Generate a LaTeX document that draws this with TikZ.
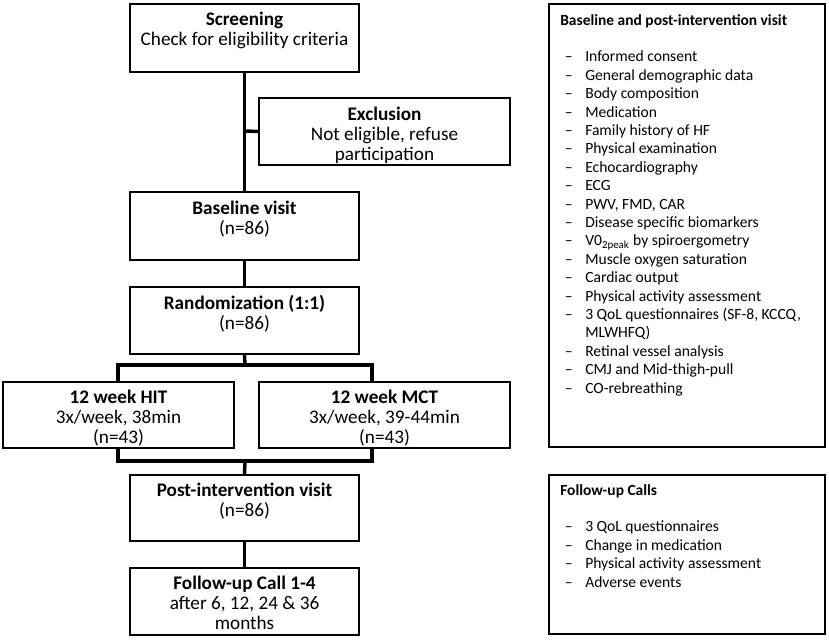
\documentclass[tikz,border=0pt]{standalone}
\usepackage{fontspec}
\setmainfont{Carlito}
\newcommand{\dsh}{\makebox[18.75pt][l]{\hspace{3.5pt}–}}
\begin{document}
\begin{tikzpicture}[x=0.75pt,y=-0.75pt,
  box/.style={draw, line width=1.6pt, inner sep=0pt},
  txt/.style={anchor=north, align=center, inner sep=0pt, font=\fontsize{14.4}{15}\selectfont},
  conn/.style={line width=2.6pt},
  lst/.style={anchor=north west, align=left, inner sep=0pt, font=\fontsize{11.7}{13.8}\selectfont}]
\useasboundingbox (0,0) rectangle (829,641);
% boxes
\node[box, minimum width=171.75pt, minimum height=51pt] (scr) at (244.5,38) {};
\node[box, minimum width=188.25pt, minimum height=50.25pt] (exc) at (384.5,131.5) {};
\node[box, minimum width=171.75pt, minimum height=51pt] (base) at (244.5,226) {};
\node[box, minimum width=171.75pt, minimum height=50.25pt] (rand) at (244.5,320.5) {};
\node[box, minimum width=173.25pt, minimum height=49.5pt] (hit) at (118.5,415) {};
\node[box, minimum width=188.25pt, minimum height=49.5pt] (mct) at (384.5,415) {};
\node[box, minimum width=171.75pt, minimum height=49.5pt] (post) at (244.5,508) {};
\node[box, minimum width=171.75pt, minimum height=50.25pt] (fol) at (244.5,601.5) {};
\node[box, minimum width=207pt, minimum height=332.25pt] (r1) at (687,225.5) {};
\node[box, minimum width=207pt, minimum height=119.25pt] (r2) at (687,554.5) {};
% texts
\node[txt] (tscr) at ([yshift=-7pt]scr.north) {\textbf{Screening}\\Check for eligibility criteria};
\node[txt] (texc) at ([yshift=-7pt]exc.north) {\textbf{Exclusion}\\Not eligible, refuse\\participation};
\node[txt] (tbase) at ([yshift=-7pt]base.north) {\textbf{Baseline visit}\\(n=86)};
\node[txt] (trand) at ([yshift=-7pt]rand.north) {\textbf{Randomization (1:1)}\\(n=86)};
\node[txt] (thit) at ([yshift=-6.5pt]hit.north) {\textbf{12 week HIT}\\3x/week, 38min\\(n=43)};
\node[txt] (tmct) at ([yshift=-6.5pt]mct.north) {\textbf{12 week MCT}\\3x/week, 39-44min\\(n=43)};
\node[txt] (tpost) at ([yshift=-6.5pt]post.north) {\textbf{Post-intervention visit}\\(n=86)};
\node[txt] (tfol) at ([yshift=-6.5pt]fol.north) {\textbf{Follow-up Call 1-4}\\after 6, 12, 24 \& 36\\months};
\node[lst] (l1) at (560,12) {\begin{tabular}{@{}l@{}l@{}}
\multicolumn{2}{@{}l@{}}{\fontsize{11.6}{13.8}\selectfont\textbf{Baseline and post-intervention visit}}\\
 & \\
\dsh & Informed consent\\
\dsh & General demographic data\\
\dsh & Body composition\\
\dsh & Medication\\
\dsh & Family history of HF\\
\dsh & Physical examination\\
\dsh & Echocardiography\\
\dsh & ECG\\
\dsh & PWV, FMD, CAR\\
\dsh & Disease specific biomarkers\\
\dsh & V0\textsubscript{2peak} by spiroergometry\\
\dsh & Muscle oxygen saturation\\
\dsh & Cardiac output\\
\dsh & Physical activity assessment\\
\dsh & 3 QoL questionnaires (SF-8, KCCQ,\\
 & MLWHFQ)\\
\dsh & Retinal vessel analysis\\
\dsh & CMJ and Mid-thigh-pull\\
\dsh & CO-rebreathing
\end{tabular}};
\node[lst] (l2) at (560,482) {\begin{tabular}{@{}l@{}l@{}}
\multicolumn{2}{@{}l@{}}{\fontsize{11.6}{13.8}\selectfont\textbf{Follow-up Calls}}\\
 & \\
\dsh & 3 QoL questionnaires\\
\dsh & Change in medication\\
\dsh & Physical activity assessment\\
\dsh & Adverse events
\end{tabular}};
% connectors
\draw[conn] (scr.south) -- (base.north);
\coordinate (j1) at (245,131);
\draw[conn] (j1) -- (exc.west);
\draw[conn] (base.south) -- (rand.north);
\coordinate (j2) at (245,365);
\coordinate (j2l) at (118,365);
\coordinate (j2r) at (372,365);
\draw[conn] (rand.south) -- (j2);
\draw[conn] (hit.north -| j2l) -- (j2l) -- (j2r) -- (mct.north -| j2r);
\coordinate (j3) at (245,461);
\coordinate (j3l) at (118,461);
\coordinate (j3r) at (372,461);
\draw[conn] (hit.south -| j3l) -- (j3l) -- (j3r) -- (mct.south -| j3r);
\draw[conn] (j3) -- (post.north);
\draw[conn] (post.south) -- (fol.north);
\end{tikzpicture}
\end{document}
